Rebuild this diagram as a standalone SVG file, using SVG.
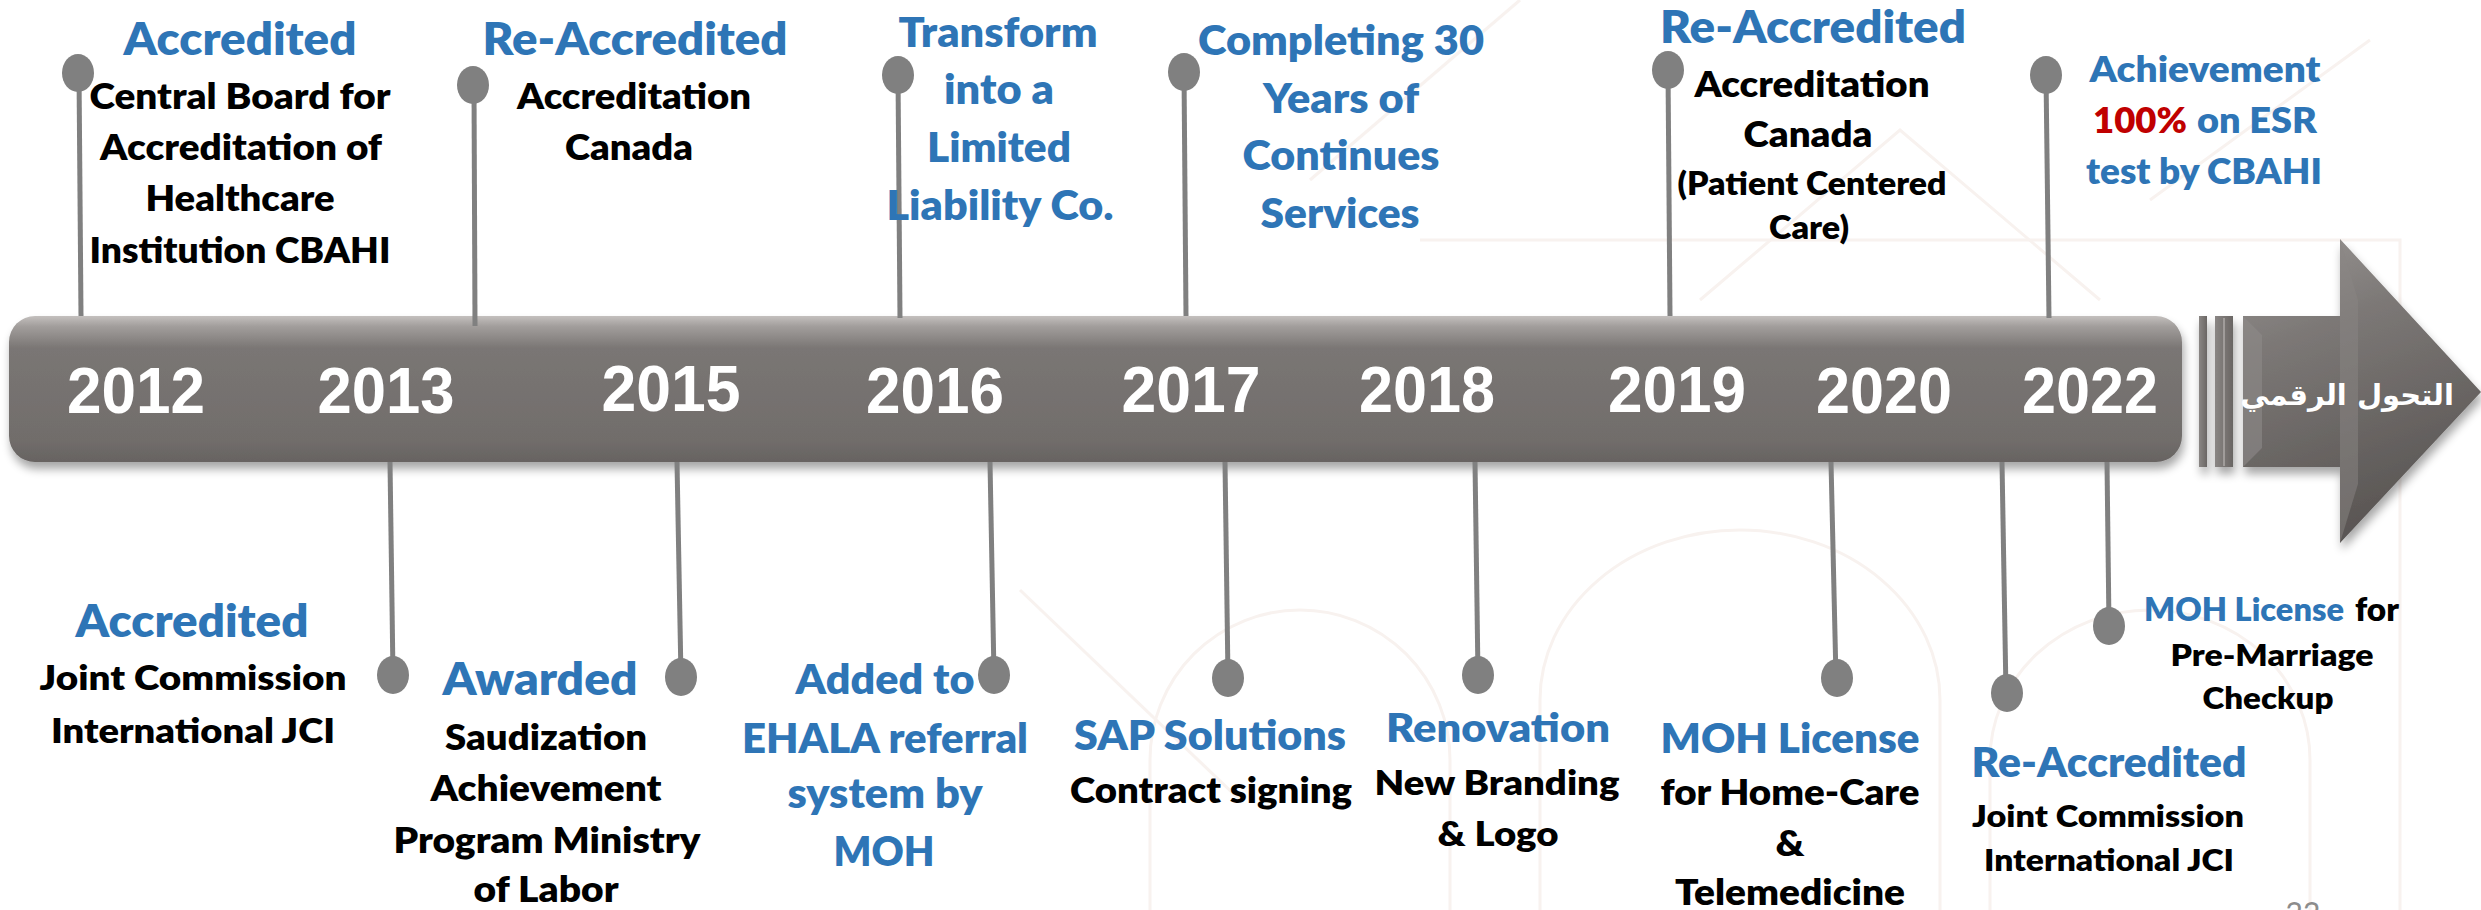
<svg xmlns="http://www.w3.org/2000/svg" width="2481" height="910" viewBox="0 0 2481 910">
<defs>
<style>
.t{font-family:Lato,"Open Sans","Liberation Sans",sans-serif;font-weight:800;text-anchor:middle}
.b{fill:#2E75B6}
.k{fill:#000}
.r{fill:#C00000}
.yr{font-family:"Liberation Sans",Arial,sans-serif;font-weight:700;font-size:64px;fill:#fff;text-anchor:middle}
.stem{stroke:#808080;stroke-width:5;fill:none}
.dot{fill:#808080}
.wm{fill:none;stroke:#f8f2ef;stroke-width:3}
</style>
<linearGradient id="barG" x1="0" y1="0" x2="0" y2="1">
<stop offset="0" stop-color="#c4c0be"/>
<stop offset="0.07" stop-color="#a29e9c"/>
<stop offset="0.22" stop-color="#7a7674"/>
<stop offset="0.85" stop-color="#716d6b"/>
<stop offset="1" stop-color="#676361"/>
</linearGradient>
<linearGradient id="arrG" x1="0" y1="0" x2="0.3" y2="1">
<stop offset="0" stop-color="#9a9694"/>
<stop offset="0.35" stop-color="#7c7876"/>
<stop offset="1" stop-color="#5a5654"/>
</linearGradient>
<linearGradient id="stG" x1="0" y1="0" x2="1" y2="0">
<stop offset="0" stop-color="#8a8684"/>
<stop offset="1" stop-color="#6a6664"/>
</linearGradient>
<filter id="sh" x="-5%" y="-20%" width="110%" height="150%">
<feGaussianBlur in="SourceAlpha" stdDeviation="5"/>
<feOffset dx="2" dy="7" result="o"/>
<feComponentTransfer><feFuncA type="linear" slope="0.35"/></feComponentTransfer>
<feMerge><feMergeNode/><feMergeNode in="SourceGraphic"/></feMerge>
</filter>
</defs>
<rect width="2481" height="910" fill="#ffffff"/>
<g id="watermark">
<path class="wm" d="M1540,910 L1540,700 A200,170 0 0 1 1940,700 L1940,910"/>
<path class="wm" d="M1990,910 L1990,760 A160,150 0 0 1 2310,760 L2310,910"/>
<path class="wm" d="M1150,910 L1150,760 A150,150 0 0 1 1450,760 L1450,910"/>
<path class="wm" d="M1310,180 L1520,0"/>
<path class="wm" d="M1700,300 L1900,130 L2100,300"/>
<path class="wm" d="M2150,200 L2370,40"/>
<path class="wm" d="M1420,240 L2400,240 L2400,910"/>
<path class="wm" d="M1020,590 L1240,800"/>
</g>
<g id="timeline-bar" filter="url(#sh)">
<rect x="9" y="316" width="2173" height="146" rx="26" ry="26" fill="url(#barG)"/>
<rect x="2199" y="316" width="8" height="151" fill="url(#stG)"/>
<rect x="2215" y="316" width="18" height="151" fill="url(#stG)"/>
<line x1="2224" y1="318" x2="2224" y2="466" stroke="#a09c9a" stroke-width="2"/>
<path d="M2243,316 L2340,316 L2340,239 L2481,392 L2340,543 L2340,467 L2243,467 Z" fill="url(#arrG)"/>
<path d="M2243,316 L2262,335 L2262,448 L2243,467 Z" fill="#8e8a88" opacity="0.6"/>
<path d="M2340,239 L2358,300 L2358,484 L2340,543 Z" fill="#8a8684" opacity="0.5"/>
</g>
<g id="connectors">
<line class="stem" x1="79" y1="73" x2="81" y2="316"/>
<line class="stem" x1="474" y1="85" x2="475" y2="326"/>
<line class="stem" x1="898" y1="75" x2="900" y2="318"/>
<line class="stem" x1="1184" y1="72" x2="1186" y2="316"/>
<line class="stem" x1="1668" y1="70" x2="1670" y2="316"/>
<line class="stem" x1="2046" y1="75" x2="2049" y2="318"/>
<line class="stem" x1="390" y1="462" x2="393" y2="675"/>
<line class="stem" x1="677" y1="462" x2="681" y2="677"/>
<line class="stem" x1="990" y1="462" x2="994" y2="675"/>
<line class="stem" x1="1225" y1="462" x2="1228" y2="678"/>
<line class="stem" x1="1475" y1="462" x2="1478" y2="675"/>
<line class="stem" x1="1831" y1="462" x2="1836" y2="678"/>
<line class="stem" x1="2002" y1="462" x2="2006" y2="693"/>
<line class="stem" x1="2107" y1="462" x2="2109" y2="626"/>
</g>
<g id="years">
<text class="yr" x="136" y="413" textLength="138" lengthAdjust="spacingAndGlyphs">2012</text>
<text class="yr" x="386" y="413" textLength="137" lengthAdjust="spacingAndGlyphs">2013</text>
<text class="yr" x="671" y="411" textLength="139" lengthAdjust="spacingAndGlyphs">2015</text>
<text class="yr" x="935" y="413" textLength="138" lengthAdjust="spacingAndGlyphs">2016</text>
<text class="yr" x="1191" y="412" textLength="139" lengthAdjust="spacingAndGlyphs">2017</text>
<text class="yr" x="1427" y="412" textLength="136" lengthAdjust="spacingAndGlyphs">2018</text>
<text class="yr" x="1677" y="412" textLength="138" lengthAdjust="spacingAndGlyphs">2019</text>
<text class="yr" x="1884" y="413" textLength="136" lengthAdjust="spacingAndGlyphs">2020</text>
<text class="yr" x="2090" y="413" textLength="136" lengthAdjust="spacingAndGlyphs">2022</text>
<text x="2347" y="405" font-family="'DejaVu Sans',sans-serif" font-weight="700" font-size="29" fill="#fff" text-anchor="middle" direction="rtl">التحول الرقمي</text>
</g>
<g id="node-2012-cbahi">
<ellipse class="dot" cx="78" cy="73" rx="16" ry="19"/>
<text class="t b" x="240" y="55" font-size="46" textLength="233" lengthAdjust="spacingAndGlyphs">Accredited</text>
<text class="t k" x="240" y="109" font-size="36" textLength="301" lengthAdjust="spacingAndGlyphs">Central Board for</text>
<text class="t k" x="241" y="160" font-size="36" textLength="282" lengthAdjust="spacingAndGlyphs">Accreditation of</text>
<text class="t k" x="240" y="211" font-size="36" textLength="189" lengthAdjust="spacingAndGlyphs">Healthcare</text>
<text class="t k" x="240" y="263" font-size="36" textLength="301" lengthAdjust="spacingAndGlyphs">Institution CBAHI</text>
</g>
<g id="node-2013-canada">
<ellipse class="dot" cx="473" cy="85" rx="16" ry="19"/>
<text class="t b" x="635" y="55" font-size="46" textLength="305" lengthAdjust="spacingAndGlyphs">Re-Accredited</text>
<text class="t k" x="634" y="109" font-size="36" textLength="234" lengthAdjust="spacingAndGlyphs">Accreditation</text>
<text class="t k" x="629" y="160" font-size="36" textLength="128" lengthAdjust="spacingAndGlyphs">Canada</text>
</g>
<g id="node-2016-llc">
<ellipse class="dot" cx="898" cy="75" rx="16" ry="19"/>
<text class="t b" x="998" y="47" font-size="42" textLength="199" lengthAdjust="spacingAndGlyphs">Transform</text>
<text class="t b" x="999" y="104" font-size="42" textLength="110" lengthAdjust="spacingAndGlyphs">into a</text>
<text class="t b" x="999" y="162" font-size="42" textLength="144" lengthAdjust="spacingAndGlyphs">Limited</text>
<text class="t b" x="1000" y="220" font-size="42" textLength="227" lengthAdjust="spacingAndGlyphs">Liability Co.</text>
</g>
<g id="node-2017-30years">
<ellipse class="dot" cx="1184" cy="72" rx="16" ry="19"/>
<text class="t b" x="1341" y="55" font-size="42" textLength="286" lengthAdjust="spacingAndGlyphs">Completing 30</text>
<text class="t b" x="1341" y="113" font-size="42" textLength="156" lengthAdjust="spacingAndGlyphs">Years of</text>
<text class="t b" x="1341" y="170" font-size="42" textLength="197" lengthAdjust="spacingAndGlyphs">Continues</text>
<text class="t b" x="1340" y="228" font-size="42" textLength="159" lengthAdjust="spacingAndGlyphs">Services</text>
</g>
<g id="node-2019-canada">
<ellipse class="dot" cx="1668" cy="70" rx="16" ry="19"/>
<text class="t b" x="1813" y="43" font-size="45" textLength="306" lengthAdjust="spacingAndGlyphs">Re-Accredited</text>
<text class="t k" x="1812" y="97" font-size="36" textLength="235" lengthAdjust="spacingAndGlyphs">Accreditation</text>
<text class="t k" x="1808" y="147" font-size="36" textLength="129" lengthAdjust="spacingAndGlyphs">Canada</text>
<text class="t k" x="1812" y="195" font-size="32" textLength="269" lengthAdjust="spacingAndGlyphs">(Patient Centered</text>
<text class="t k" x="1809" y="239" font-size="32" textLength="80" lengthAdjust="spacingAndGlyphs">Care)</text>
</g>
<g id="node-2022-esr">
<ellipse class="dot" cx="2046" cy="75" rx="16" ry="19"/>
<text class="t b" x="2205" y="82" font-size="35" textLength="231" lengthAdjust="spacingAndGlyphs">Achievement</text>
<text class="t r" x="2140" y="133" font-size="35" textLength="94" lengthAdjust="spacingAndGlyphs">100%</text>
<text class="t b" x="2257" y="133" font-size="35" textLength="120" lengthAdjust="spacingAndGlyphs">on ESR</text>
<text class="t b" x="2204" y="184" font-size="35" textLength="236" lengthAdjust="spacingAndGlyphs">test by CBAHI</text>
</g>
<g id="node-2013-jci">
<ellipse class="dot" cx="393" cy="675" rx="16" ry="19"/>
<text class="t b" x="192" y="637" font-size="46" textLength="233" lengthAdjust="spacingAndGlyphs">Accredited</text>
<text class="t k" x="193" y="690" font-size="34" textLength="307" lengthAdjust="spacingAndGlyphs">Joint Commission</text>
<text class="t k" x="193" y="743" font-size="34" textLength="284" lengthAdjust="spacingAndGlyphs">International JCI</text>
</g>
<g id="node-2015-saudization">
<ellipse class="dot" cx="681" cy="677" rx="16" ry="19"/>
<text class="t b" x="540" y="695" font-size="46" textLength="195" lengthAdjust="spacingAndGlyphs">Awarded</text>
<text class="t k" x="546" y="750" font-size="35" textLength="202" lengthAdjust="spacingAndGlyphs">Saudization</text>
<text class="t k" x="546" y="801" font-size="35" textLength="231" lengthAdjust="spacingAndGlyphs">Achievement</text>
<text class="t k" x="547" y="853" font-size="35" textLength="307" lengthAdjust="spacingAndGlyphs">Program Ministry</text>
<text class="t k" x="546" y="902" font-size="35" textLength="145" lengthAdjust="spacingAndGlyphs">of Labor</text>
</g>
<g id="node-2016-ehala">
<ellipse class="dot" cx="994" cy="675" rx="16" ry="19"/>
<text class="t b" x="885" y="694" font-size="41" textLength="179" lengthAdjust="spacingAndGlyphs">Added to</text>
<text class="t b" x="885" y="753" font-size="41" textLength="286" lengthAdjust="spacingAndGlyphs">EHALA referral</text>
<text class="t b" x="885" y="808" font-size="41" textLength="195" lengthAdjust="spacingAndGlyphs">system by</text>
<text class="t b" x="884" y="866" font-size="41" textLength="101" lengthAdjust="spacingAndGlyphs">MOH</text>
</g>
<g id="node-2017-sap">
<ellipse class="dot" cx="1228" cy="678" rx="16" ry="19"/>
<text class="t b" x="1210" y="750" font-size="42" textLength="272" lengthAdjust="spacingAndGlyphs">SAP Solutions</text>
<text class="t k" x="1211" y="803" font-size="35" textLength="282" lengthAdjust="spacingAndGlyphs">Contract signing</text>
</g>
<g id="node-2018-renovation">
<ellipse class="dot" cx="1478" cy="675" rx="16" ry="19"/>
<text class="t b" x="1498" y="742" font-size="40" textLength="224" lengthAdjust="spacingAndGlyphs">Renovation</text>
<text class="t k" x="1497" y="795" font-size="34" textLength="245" lengthAdjust="spacingAndGlyphs">New Branding</text>
<text class="t k" x="1498" y="846" font-size="34" textLength="121" lengthAdjust="spacingAndGlyphs">&amp; Logo</text>
</g>
<g id="node-2020-homecare">
<ellipse class="dot" cx="1837" cy="678" rx="16" ry="19"/>
<text class="t b" x="1790" y="753" font-size="41" textLength="259" lengthAdjust="spacingAndGlyphs">MOH License</text>
<text class="t k" x="1790" y="805" font-size="35" textLength="259" lengthAdjust="spacingAndGlyphs">for Home-Care</text>
<text class="t k" x="1790" y="856" font-size="35" textLength="29" lengthAdjust="spacingAndGlyphs">&amp;</text>
<text class="t k" x="1790" y="905" font-size="35" textLength="230" lengthAdjust="spacingAndGlyphs">Telemedicine</text>
</g>
<g id="node-2022-jci">
<ellipse class="dot" cx="2007" cy="693" rx="16" ry="19"/>
<text class="t b" x="2109" y="777" font-size="41" textLength="275" lengthAdjust="spacingAndGlyphs">Re-Accredited</text>
<text class="t k" x="2108" y="827" font-size="31" textLength="272" lengthAdjust="spacingAndGlyphs">Joint Commission</text>
<text class="t k" x="2109" y="871" font-size="31" textLength="250" lengthAdjust="spacingAndGlyphs">International JCI</text>
</g>
<g id="node-2022-premarriage">
<ellipse class="dot" cx="2109" cy="626" rx="16" ry="19"/>
<text class="t b" x="2244" y="621" font-size="32" textLength="200" lengthAdjust="spacingAndGlyphs">MOH License</text>
<text class="t k" x="2377" y="621" font-size="32" textLength="44" lengthAdjust="spacingAndGlyphs">for</text>
<text class="t k" x="2272" y="666" font-size="31" textLength="203" lengthAdjust="spacingAndGlyphs">Pre-Marriage</text>
<text class="t k" x="2268" y="709" font-size="31" textLength="131" lengthAdjust="spacingAndGlyphs">Checkup</text>
</g>
<text x="2303" y="924" font-family="Lato,sans-serif" font-size="30" fill="#8c8c8c" text-anchor="middle">22</text>
</svg>
